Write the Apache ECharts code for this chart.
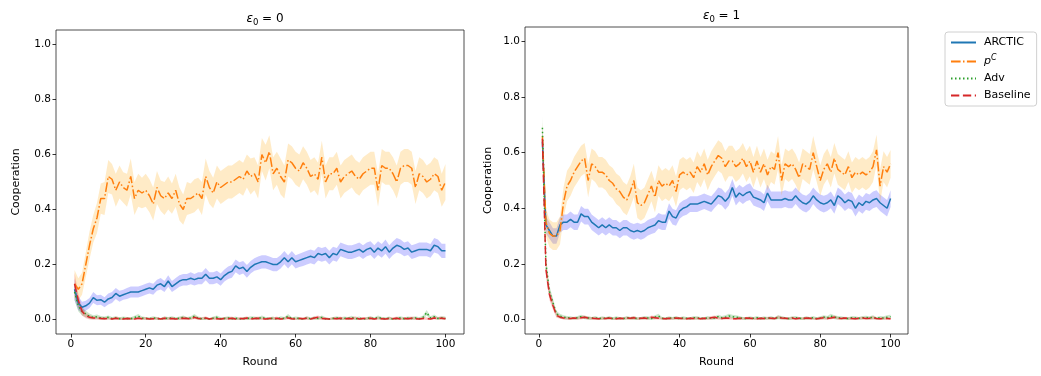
<!DOCTYPE html>
<html><head><meta charset="utf-8">
<script src="https://cdn.jsdelivr.net/npm/echarts@6/dist/echarts.min.js"></script>
<style>html,body{margin:0;padding:0;background:#fff}#c{width:1041px;height:376px}</style>
</head><body><div id="c"></div>
<script>
const methods = ['ARCTIC','pC','Adv','Baseline'];
const xTicks = [0,20,40,60,80,100];
const yTicks = [0,0.2,0.4,0.6,0.8,1.0];
const panelTitles = ['0','1'];

// ---- Panel ε0 = 0 ----
const p0_ARCTIC = [0.11,0.06,0.045,0.05,0.06,0.08,0.07,0.072,0.063,0.075,0.08,0.095,0.085,0.09,0.095,0.1,0.1,0.1,0.105,0.11,0.115,0.11,0.125,0.13,0.12,0.14,0.12,0.13,0.14,0.145,0.145,0.15,0.145,0.15,0.15,0.165,0.15,0.15,0.155,0.145,0.16,0.17,0.175,0.195,0.185,0.19,0.175,0.19,0.2,0.205,0.21,0.21,0.205,0.2,0.2,0.21,0.225,0.21,0.225,0.21,0.215,0.22,0.225,0.23,0.225,0.24,0.235,0.24,0.225,0.24,0.235,0.255,0.25,0.245,0.245,0.25,0.255,0.245,0.255,0.26,0.245,0.26,0.25,0.265,0.245,0.26,0.27,0.265,0.255,0.26,0.245,0.25,0.255,0.255,0.255,0.25,0.27,0.265,0.25,0.25];
const p0_ARCTIC_err = [0.04,0.025,0.02,0.018,0.018,0.02,0.018,0.018,0.018,0.02,0.02,0.02,0.02,0.018,0.02,0.02,0.02,0.02,0.02,0.02,0.02,0.02,0.02,0.021,0.02,0.021,0.02,0.021,0.021,0.021,0.021,0.022,0.021,0.022,0.022,0.022,0.022,0.022,0.022,0.022,0.022,0.023,0.023,0.023,0.023,0.023,0.023,0.023,0.023,0.024,0.024,0.024,0.024,0.024,0.024,0.024,0.024,0.024,0.024,0.024,0.024,0.025,0.025,0.025,0.025,0.025,0.025,0.025,0.025,0.025,0.025,0.025,0.025,0.025,0.025,0.025,0.025,0.025,0.025,0.025,0.025,0.025,0.025,0.026,0.025,0.025,0.026,0.026,0.025,0.025,0.025,0.025,0.025,0.025,0.025,0.025,0.026,0.026,0.026,0.026];
const p0_pC = [0.13,0.11,0.13,0.2,0.27,0.33,0.37,0.44,0.44,0.52,0.51,0.47,0.5,0.48,0.47,0.52,0.44,0.47,0.46,0.47,0.45,0.42,0.48,0.45,0.44,0.46,0.44,0.47,0.42,0.4,0.44,0.44,0.45,0.46,0.44,0.52,0.48,0.46,0.5,0.48,0.49,0.5,0.5,0.51,0.52,0.51,0.54,0.52,0.53,0.5,0.6,0.57,0.61,0.53,0.55,0.52,0.5,0.58,0.57,0.55,0.54,0.57,0.55,0.52,0.53,0.51,0.59,0.5,0.53,0.53,0.55,0.5,0.52,0.53,0.54,0.52,0.51,0.53,0.54,0.55,0.55,0.47,0.56,0.55,0.55,0.53,0.5,0.55,0.56,0.56,0.55,0.48,0.53,0.52,0.5,0.51,0.53,0.52,0.47,0.5];
const p0_pC_err = [0.05,0.04,0.04,0.045,0.05,0.05,0.055,0.055,0.06,0.06,0.055,0.06,0.06,0.055,0.06,0.065,0.06,0.06,0.055,0.06,0.06,0.06,0.06,0.055,0.06,0.06,0.055,0.06,0.06,0.055,0.06,0.055,0.06,0.055,0.06,0.065,0.06,0.055,0.06,0.06,0.06,0.06,0.06,0.06,0.06,0.06,0.06,0.065,0.06,0.06,0.06,0.065,0.06,0.06,0.06,0.065,0.06,0.06,0.06,0.06,0.06,0.06,0.06,0.06,0.06,0.06,0.06,0.06,0.06,0.06,0.06,0.06,0.06,0.06,0.06,0.06,0.06,0.06,0.06,0.06,0.06,0.06,0.06,0.06,0.06,0.06,0.06,0.06,0.06,0.06,0.06,0.06,0.06,0.06,0.06,0.06,0.06,0.06,0.06,0.065];
const p0_Adv = [0.10,0.05,0.03,0.02,0.012,0.008,0.01,0.006,0.005,0.008,0.004,0.006,0.003,0.005,0.004,0.003,0.007,0.012,0.005,0.004,0.003,0.006,0.004,0.002,0.005,0.004,0.006,0.003,0.005,0.008,0.004,0.006,0.012,0.005,0.003,0.004,0.002,0.005,0.008,0.003,0.004,0.006,0.003,0.005,0.002,0.004,0.003,0.006,0.005,0.003,0.008,0.004,0.003,0.005,0.002,0.006,0.004,0.012,0.003,0.005,0.004,0.002,0.006,0.003,0.005,0.004,0.008,0.003,0.002,0.004,0.006,0.003,0.005,0.004,0.007,0.003,0.005,0.002,0.004,0.006,0.003,0.008,0.004,0.003,0.005,0.002,0.004,0.006,0.003,0.005,0.004,0.006,0.003,0.008,0.025,0.006,0.01,0.004,0.006,0.005];
const p0_Adv_err = [0.03,0.02,0.015,0.012,0.01,0.008,0.008,0.007,0.006,0.007,0.005,0.006,0.005,0.006,0.005,0.005,0.007,0.008,0.006,0.005,0.005,0.006,0.005,0.004,0.006,0.005,0.006,0.005,0.006,0.007,0.005,0.006,0.008,0.006,0.005,0.005,0.004,0.006,0.007,0.005,0.005,0.006,0.005,0.006,0.004,0.005,0.005,0.006,0.006,0.005,0.007,0.005,0.005,0.006,0.004,0.006,0.005,0.008,0.005,0.006,0.005,0.004,0.006,0.005,0.006,0.005,0.007,0.005,0.004,0.005,0.006,0.005,0.006,0.005,0.007,0.005,0.006,0.004,0.005,0.006,0.005,0.007,0.005,0.005,0.006,0.004,0.005,0.006,0.005,0.006,0.005,0.006,0.005,0.007,0.01,0.006,0.008,0.005,0.006,0.006];
const p0_Baseline = [0.13,0.07,0.03,0.015,0.008,0.006,0.005,0.004,0.003,0.004,0.002,0.005,0.003,0.002,0.004,0.003,0.002,0.005,0.003,0.004,0.002,0.003,0.004,0.002,0.005,0.003,0.004,0.002,0.003,0.005,0.004,0.002,0.008,0.004,0.003,0.006,0.002,0.004,0.003,0.002,0.004,0.003,0.005,0.002,0.004,0.003,0.006,0.002,0.004,0.005,0.003,0.002,0.004,0.003,0.005,0.002,0.004,0.006,0.003,0.002,0.004,0.003,0.005,0.002,0.006,0.008,0.004,0.003,0.002,0.004,0.003,0.005,0.002,0.004,0.003,0.006,0.002,0.004,0.003,0.005,0.002,0.004,0.003,0.002,0.004,0.003,0.005,0.002,0.004,0.003,0.005,0.003,0.002,0.004,0.003,0.002,0.006,0.004,0.005,0.003];
const p0_Baseline_err = [0.04,0.025,0.015,0.01,0.008,0.006,0.006,0.005,0.005,0.005,0.004,0.006,0.005,0.004,0.005,0.005,0.004,0.006,0.005,0.005,0.004,0.005,0.005,0.004,0.006,0.005,0.005,0.004,0.005,0.006,0.005,0.004,0.007,0.005,0.005,0.006,0.004,0.005,0.005,0.004,0.005,0.005,0.006,0.004,0.005,0.005,0.006,0.004,0.005,0.006,0.005,0.004,0.005,0.005,0.006,0.004,0.005,0.006,0.005,0.004,0.005,0.005,0.006,0.004,0.006,0.007,0.005,0.005,0.004,0.005,0.005,0.006,0.004,0.005,0.005,0.006,0.004,0.005,0.005,0.006,0.004,0.005,0.005,0.004,0.005,0.005,0.006,0.004,0.005,0.005,0.006,0.005,0.004,0.005,0.005,0.004,0.006,0.005,0.006,0.005];

// ---- Panel ε0 = 1 ----
const p1_ARCTIC = [0.64,0.34,0.32,0.3,0.3,0.34,0.35,0.35,0.36,0.35,0.35,0.38,0.37,0.37,0.35,0.34,0.33,0.34,0.33,0.34,0.33,0.33,0.32,0.33,0.33,0.32,0.315,0.32,0.315,0.32,0.33,0.335,0.34,0.355,0.35,0.35,0.39,0.37,0.365,0.39,0.4,0.405,0.415,0.415,0.415,0.42,0.425,0.42,0.415,0.43,0.445,0.44,0.425,0.44,0.475,0.44,0.455,0.445,0.455,0.46,0.44,0.435,0.43,0.42,0.455,0.43,0.43,0.43,0.43,0.435,0.43,0.43,0.445,0.43,0.42,0.415,0.425,0.445,0.43,0.42,0.415,0.42,0.43,0.41,0.445,0.435,0.42,0.43,0.425,0.4,0.42,0.41,0.425,0.42,0.43,0.435,0.42,0.41,0.4,0.435];
const p1_ARCTIC_err = [0.05,0.03,0.03,0.028,0.028,0.028,0.028,0.028,0.028,0.028,0.028,0.028,0.028,0.028,0.028,0.028,0.028,0.028,0.028,0.028,0.028,0.028,0.028,0.028,0.028,0.028,0.028,0.028,0.028,0.028,0.028,0.028,0.028,0.028,0.028,0.028,0.028,0.028,0.028,0.028,0.028,0.028,0.028,0.028,0.028,0.028,0.028,0.028,0.028,0.028,0.03,0.03,0.03,0.03,0.03,0.03,0.03,0.03,0.03,0.03,0.03,0.03,0.03,0.03,0.03,0.03,0.03,0.03,0.03,0.03,0.03,0.03,0.03,0.03,0.03,0.03,0.03,0.03,0.03,0.03,0.03,0.03,0.03,0.03,0.03,0.03,0.03,0.03,0.03,0.03,0.03,0.03,0.03,0.03,0.03,0.03,0.03,0.03,0.03,0.03];
const p1_pC = [0.66,0.35,0.31,0.3,0.3,0.32,0.42,0.48,0.5,0.53,0.55,0.57,0.58,0.5,0.56,0.55,0.53,0.53,0.52,0.5,0.49,0.47,0.46,0.44,0.43,0.46,0.5,0.42,0.41,0.42,0.45,0.48,0.44,0.5,0.48,0.49,0.48,0.5,0.46,0.52,0.53,0.52,0.53,0.51,0.55,0.53,0.56,0.52,0.55,0.57,0.59,0.58,0.55,0.57,0.57,0.55,0.56,0.58,0.55,0.57,0.53,0.57,0.53,0.56,0.52,0.55,0.54,0.6,0.5,0.56,0.55,0.56,0.54,0.51,0.56,0.55,0.54,0.6,0.55,0.5,0.54,0.56,0.53,0.58,0.54,0.53,0.52,0.55,0.51,0.53,0.52,0.53,0.52,0.53,0.55,0.61,0.48,0.55,0.53,0.56];
const p1_pC_err = [0.05,0.05,0.05,0.05,0.05,0.05,0.055,0.055,0.055,0.055,0.055,0.055,0.055,0.06,0.055,0.055,0.055,0.055,0.055,0.055,0.055,0.055,0.055,0.055,0.055,0.055,0.06,0.055,0.055,0.055,0.055,0.055,0.055,0.055,0.055,0.055,0.055,0.055,0.055,0.055,0.055,0.055,0.055,0.055,0.055,0.055,0.055,0.055,0.055,0.055,0.055,0.055,0.055,0.055,0.055,0.055,0.055,0.055,0.055,0.055,0.055,0.055,0.055,0.055,0.055,0.055,0.055,0.06,0.055,0.055,0.055,0.055,0.055,0.055,0.055,0.055,0.055,0.06,0.055,0.055,0.055,0.055,0.055,0.055,0.055,0.055,0.055,0.055,0.055,0.055,0.055,0.055,0.055,0.055,0.055,0.055,0.06,0.055,0.055,0.05];
const p1_Adv = [0.69,0.2,0.1,0.06,0.02,0.012,0.008,0.006,0.005,0.004,0.006,0.01,0.007,0.005,0.004,0.006,0.003,0.005,0.004,0.006,0.003,0.005,0.004,0.003,0.006,0.004,0.005,0.003,0.004,0.006,0.005,0.003,0.008,0.012,0.004,0.003,0.005,0.004,0.006,0.003,0.005,0.004,0.003,0.006,0.005,0.004,0.003,0.006,0.004,0.005,0.01,0.006,0.008,0.012,0.01,0.008,0.006,0.004,0.003,0.005,0.004,0.006,0.003,0.005,0.004,0.006,0.003,0.008,0.006,0.004,0.003,0.005,0.006,0.004,0.003,0.005,0.004,0.006,0.003,0.005,0.008,0.006,0.012,0.008,0.006,0.005,0.004,0.003,0.006,0.005,0.004,0.006,0.007,0.005,0.008,0.004,0.006,0.005,0.008,0.01];
const p1_Adv_err = [0.04,0.03,0.02,0.015,0.01,0.008,0.007,0.006,0.006,0.005,0.006,0.007,0.006,0.006,0.005,0.006,0.005,0.006,0.005,0.006,0.005,0.006,0.005,0.005,0.006,0.005,0.006,0.005,0.005,0.006,0.006,0.005,0.007,0.008,0.005,0.005,0.006,0.005,0.006,0.005,0.006,0.005,0.005,0.006,0.006,0.005,0.005,0.006,0.005,0.006,0.007,0.006,0.007,0.008,0.007,0.007,0.006,0.005,0.005,0.006,0.005,0.006,0.005,0.006,0.005,0.006,0.005,0.007,0.006,0.005,0.005,0.006,0.006,0.005,0.005,0.006,0.005,0.006,0.005,0.006,0.007,0.006,0.008,0.007,0.006,0.006,0.005,0.005,0.006,0.006,0.005,0.006,0.006,0.006,0.007,0.005,0.006,0.006,0.007,0.007];
const p1_Baseline = [0.65,0.18,0.09,0.05,0.015,0.008,0.005,0.004,0.003,0.005,0.004,0.006,0.008,0.005,0.004,0.003,0.002,0.004,0.003,0.005,0.003,0.002,0.004,0.003,0.005,0.004,0.006,0.003,0.004,0.005,0.003,0.008,0.006,0.004,0.003,0.002,0.004,0.003,0.005,0.004,0.003,0.002,0.004,0.003,0.005,0.002,0.004,0.003,0.006,0.008,0.004,0.003,0.005,0.004,0.003,0.002,0.004,0.003,0.005,0.004,0.003,0.002,0.004,0.003,0.005,0.004,0.003,0.008,0.005,0.004,0.003,0.005,0.002,0.004,0.003,0.005,0.004,0.003,0.002,0.004,0.006,0.003,0.005,0.008,0.004,0.003,0.005,0.004,0.003,0.002,0.004,0.005,0.003,0.004,0.006,0.003,0.002,0.004,0.003,0.002];
const p1_Baseline_err = [0.04,0.03,0.02,0.015,0.009,0.006,0.005,0.005,0.004,0.005,0.005,0.006,0.006,0.005,0.005,0.004,0.004,0.005,0.004,0.005,0.004,0.004,0.005,0.004,0.005,0.005,0.006,0.004,0.005,0.005,0.004,0.006,0.006,0.005,0.004,0.004,0.005,0.004,0.005,0.005,0.004,0.004,0.005,0.004,0.005,0.004,0.005,0.004,0.006,0.006,0.005,0.004,0.005,0.005,0.004,0.004,0.005,0.004,0.005,0.005,0.004,0.004,0.005,0.004,0.005,0.005,0.004,0.006,0.005,0.005,0.004,0.005,0.004,0.005,0.004,0.005,0.005,0.004,0.004,0.005,0.006,0.004,0.005,0.006,0.005,0.004,0.005,0.005,0.004,0.004,0.005,0.005,0.004,0.005,0.006,0.004,0.004,0.005,0.004,0.004];

const rounds = p0_ARCTIC.map((_, i) => i + 1);

const panels = [
  {ARCTIC:[p0_ARCTIC,p0_ARCTIC_err], pC:[p0_pC,p0_pC_err], Adv:[p0_Adv,p0_Adv_err], Baseline:[p0_Baseline,p0_Baseline_err]},
  {ARCTIC:[p1_ARCTIC,p1_ARCTIC_err], pC:[p1_pC,p1_pC_err], Adv:[p1_Adv,p1_Adv_err], Baseline:[p1_Baseline,p1_Baseline_err]}
];

const styles = {
  ARCTIC:   {color:'#1f77b4', type:'solid', band:'rgba(0,0,255,0.2)'},
  pC:       {color:'#ff7f0e', type:[9.6,2.4,1.5,2.4], band:'rgba(255,165,0,0.22)'},
  Adv:      {color:'#2ca02c', type:[1.5,2.5], band:'rgba(0,128,0,0.2)'},
  Baseline: {color:'#d62728', type:[8.3,3.6], band:'rgba(255,0,0,0.2)'}
};

const FONT = 'DejaVu Sans';
const grids = [
  {left:56, top:30, width:408, height:304},
  {left:525, top:27, width:383, height:307}
];
const yNameGaps = [34, 31];

const series = [];
panels.forEach((pan, p) => {
  methods.forEach(m => {
    const [mean, err] = pan[m];
    const st = styles[m];
    series.push({
      name: m, type: 'line', xAxisIndex: p, yAxisIndex: p,
      data: rounds.map((r, i) => [r, mean[i]]),
      showSymbol: false, symbol: 'none', smooth: false, silent: true,
      lineStyle: {color: st.color, width: 1.5, type: st.type},
      itemStyle: {color: st.color},
      z: 3
    });
    series.push({
      name: m + '_band', type: 'custom', xAxisIndex: p, yAxisIndex: p,
      data: rounds.map((r, i) => [r, mean[i] - err[i], mean[i] + err[i]]),
      encode: {x: 0, y: [1, 2]}, silent: true, z: 2,
      renderItem: (params, api) => {
        if (params.dataIndexInside !== 0) return null;
        const up = rounds.map((r, i) => api.coord([r, mean[i] + err[i]]));
        const lo = rounds.map((r, i) => api.coord([r, mean[i] - err[i]])).reverse();
        const cs = params.coordSys;
        return {
          type: 'polygon',
          shape: {points: up.concat(lo)},
          style: {fill: st.band, stroke: null},
          clipPath: {type: 'rect', shape: {x: cs.x, y: cs.y, width: cs.width, height: cs.height}}
        };
      }
    });
  });
});

const titleRich = {
  e: {fontFamily: FONT, fontSize: 12, fontStyle: 'italic', fontWeight: 'normal', color: '#000'},
  s: {fontFamily: FONT, fontSize: 8.5, fontWeight: 'normal', color: '#000', padding: [7, 0, 0, 0]},
  t: {fontFamily: FONT, fontSize: 12, fontWeight: 'normal', color: '#000'}
};

const option = {
  animation: false,
  backgroundColor: '#fff',
  title: panelTitles.map((t, p) => ({
    text: '{e|ε}{s|0}{t| = ' + t + '}',
    left: grids[p].left + grids[p].width / 2, textAlign: 'center',
    top: grids[p].top - 24,
    textStyle: {fontWeight: 'normal', rich: titleRich}
  })),
  grid: grids.map(g => ({...g, show: true, borderColor: '#222', borderWidth: 0.8, backgroundColor: 'transparent', containLabel: false})),
  legend: {
    orient: 'vertical', left: 945, top: 32,
    data: methods,
    itemWidth: 25, itemHeight: 11, itemGap: 6,
    padding: [5, 6, 5, 5],
    borderColor: '#d0d0d0', borderWidth: 1, borderRadius: 3,
    backgroundColor: '#fff',
    itemStyle: {opacity: 0, borderWidth: 0},
    textStyle: {fontFamily: FONT, fontSize: 11, color: '#000', padding: [0, 0, 0, 3],
      rich: {i: {fontFamily: FONT, fontSize: 11, fontStyle: 'italic', color: '#000'},
             sup: {fontFamily: FONT, fontSize: 8, fontStyle: 'italic', color: '#000', padding: [0, 0, 7, 0]}}},
    formatter: n => n === 'pC' ? '{i|p}{sup|C}' : n,
    selectedMode: false
  },
  xAxis: grids.map((g, p) => ({
    type: 'value', gridIndex: p, min: -3.95, max: 104.95,
    name: 'Round', nameLocation: 'middle', nameGap: 23,
    nameTextStyle: {fontFamily: FONT, fontSize: 11, color: '#000'},
    axisLine: {show: false, onZero: false},
    axisTick: {show: true, length: 3.5, inside: false, customValues: xTicks, lineStyle: {color: '#000', width: 0.8}},
    axisLabel: {customValues: xTicks, fontFamily: FONT, fontSize: 10.5, color: '#000', margin: 5},
    splitLine: {show: false}
  })),
  yAxis: grids.map((g, p) => ({
    type: 'value', gridIndex: p, min: -0.0525, max: 1.0525,
    name: 'Cooperation', nameLocation: 'middle', nameGap: yNameGaps[p],
    nameTextStyle: {fontFamily: FONT, fontSize: 11, color: '#000'},
    axisLine: {show: false, onZero: false},
    axisTick: {show: true, length: 3.5, inside: false, customValues: yTicks, lineStyle: {color: '#000', width: 0.8}},
    axisLabel: {customValues: yTicks, fontFamily: FONT, fontSize: 10.5, color: '#000', margin: 5, formatter: v => v.toFixed(1)},
    splitLine: {show: false}
  })),
  series: series
};

const chart = echarts.init(document.getElementById('c'), null, {renderer: 'canvas'});
chart.setOption(option);
</script>
</body></html>
